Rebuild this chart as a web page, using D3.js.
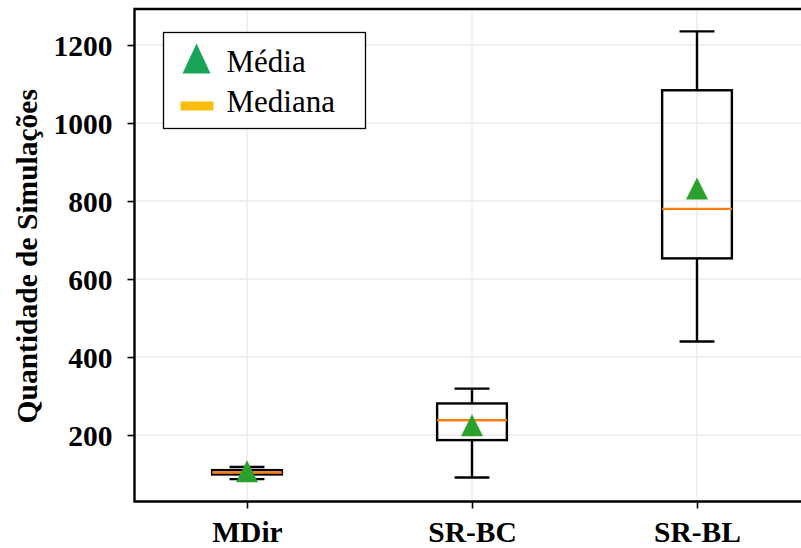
<!DOCTYPE html>
<html>
<head>
<meta charset="utf-8">
<script src="https://cdn.jsdelivr.net/npm/d3@7"></script>
<style>
  html, body { margin: 0; padding: 0; background: #fff; }
  svg { display: block; }
</style>
</head>
<body>
<svg id="chart" width="801" height="548"></svg>
<script>
// Box statistics per method (number of simulations)
const categories   = ["MDir", "SR-BC", "SR-BL"];
const whiskerLow   = [87, 91, 440];
const quartile1    = [99, 187, 653];
const medians      = [104, 238, 780];
const quartile3    = [110, 281, 1084];
const whiskerHigh  = [118, 319, 1235];
const means        = [107, 225, 832];
const yTickValues  = [200, 400, 600, 800, 1000, 1200];
const yLabel = "Quantidade de Simulações";
const legendLabels = ["Média", "Mediana"];

const svg = d3.select("#chart");
const plot = { left: 134.5, right: 809.5, top: 9, bottom: 501.5 };

const serif = "'Liberation Serif', 'Times New Roman', serif";
const lineW = 2.4;
const boxColor = "#000";
const medianColor = "#ff7f0e";
const meanColor = "#2ca02c";

// x: one slot per category, boxes centred in the slots
const x = d3.scalePoint().domain(categories).range([plot.left, plot.right]).padding(0.5);
const step = x.step();
const boxW = step * 0.31;
const capW = boxW / 2;

// y: data extent with 5% margins
const lo = d3.min(whiskerLow), hi = d3.max(whiskerHigh);
const pad = (hi - lo) * 0.05;
const y = d3.scaleLinear().domain([lo - pad, hi + pad]).range([plot.bottom, plot.top]);

// grid
const grid = svg.append("g").attr("stroke", "#ebebeb").attr("stroke-width", 1.4);
grid.selectAll("line.h").data(yTickValues).join("line")
  .attr("x1", plot.left).attr("x2", plot.right)
  .attr("y1", d => y(d)).attr("y2", d => y(d));
grid.selectAll("line.v").data(categories).join("line")
  .attr("y1", plot.top).attr("y2", plot.bottom)
  .attr("x1", d => x(d)).attr("x2", d => x(d));

// axes
const yAxis = svg.append("g")
  .attr("transform", `translate(${plot.left},0)`)
  .call(d3.axisLeft(y).tickValues(yTickValues).tickSize(7).tickPadding(15).tickFormat(d3.format("d")));
const xAxis = svg.append("g")
  .attr("transform", `translate(0,${plot.bottom})`)
  .call(d3.axisBottom(x).tickSize(7).tickPadding(9));
[yAxis, xAxis].forEach(g => {
  g.select(".domain").remove();
  g.selectAll(".tick line").attr("stroke", "#000").attr("stroke-width", 1.6);
  g.selectAll(".tick text")
    .attr("fill", "#000")
    .style("font-family", serif)
    .style("font-weight", "bold")
    .style("font-size", "29.5px");
});
xAxis.selectAll(".tick text").attr("dy", "0.82em");
yAxis.selectAll(".tick text").attr("dy", "0.34em");

// boxes
const idx = d3.range(categories.length);
const boxes = svg.append("g").attr("fill", "none");

// whiskers
boxes.selectAll("line.wl").data(idx).join("line")
  .attr("x1", i => x(categories[i])).attr("x2", i => x(categories[i]))
  .attr("y1", i => y(whiskerLow[i])).attr("y2", i => y(quartile1[i]))
  .attr("stroke", boxColor).attr("stroke-width", lineW);
boxes.selectAll("line.wh").data(idx).join("line")
  .attr("x1", i => x(categories[i])).attr("x2", i => x(categories[i]))
  .attr("y1", i => y(quartile3[i])).attr("y2", i => y(whiskerHigh[i]))
  .attr("stroke", boxColor).attr("stroke-width", lineW);
// caps
[whiskerLow, whiskerHigh].forEach(arr => {
  boxes.append("g").selectAll("line").data(idx).join("line")
    .attr("x1", i => x(categories[i]) - capW / 2).attr("x2", i => x(categories[i]) + capW / 2)
    .attr("y1", i => y(arr[i])).attr("y2", i => y(arr[i]))
    .attr("stroke", boxColor).attr("stroke-width", lineW);
});
// box rectangles
boxes.append("g").selectAll("rect").data(idx).join("rect")
  .attr("x", i => x(categories[i]) - boxW / 2)
  .attr("width", boxW)
  .attr("y", i => y(quartile3[i]))
  .attr("height", i => y(quartile1[i]) - y(quartile3[i]))
  .attr("stroke", boxColor).attr("stroke-width", lineW);
// medians
boxes.append("g").selectAll("line").data(idx).join("line")
  .attr("x1", i => x(categories[i]) - boxW / 2).attr("x2", i => x(categories[i]) + boxW / 2)
  .attr("y1", i => y(medians[i])).attr("y2", i => y(medians[i]))
  .attr("stroke", medianColor).attr("stroke-width", lineW);

// mean markers (upward triangles)
const tri = (w, h) => `M0,${-h / 2}L${w / 2},${h / 2}L${-w / 2},${h / 2}Z`;
svg.append("g").selectAll("path").data(idx).join("path")
  .attr("transform", i => `translate(${x(categories[i])},${y(means[i])})`)
  .attr("d", tri(22, 22))
  .attr("fill", meanColor);

// spines (left, bottom, top; the right one falls beyond the canvas)
const spines = svg.append("g").attr("stroke", "#000").attr("stroke-width", 2.4).attr("fill", "none");
spines.append("path")
  .attr("d", `M${plot.right},${plot.top}H${plot.left}V${plot.bottom}H${plot.right}V${plot.top}`);

// y label
svg.append("text")
  .attr("transform", `translate(37,${(plot.top + plot.bottom) / 2 + 1}) rotate(-90)`)
  .attr("text-anchor", "middle")
  .style("font-family", serif)
  .style("font-weight", "bold")
  .style("font-size", "29.5px")
  .text(yLabel);

// legend
const lg = svg.append("g").attr("transform", "translate(163.5,32.5)");
lg.append("rect").attr("width", 202).attr("height", 96)
  .attr("fill", "#fff").attr("stroke", "#000").attr("stroke-width", 1.3);
lg.append("path").attr("transform", "translate(33,26)").attr("d", tri(28, 30)).attr("fill", "#19a557");
lg.append("rect").attr("x", 17).attr("y", 69).attr("width", 33).attr("height", 9).attr("fill", "#fbbd0b");
lg.selectAll("text").data(legendLabels).join("text")
  .attr("x", 63).attr("y", (d, i) => 39 + i * 40)
  .style("font-family", serif)
  .style("font-size", "31px")
  .text(d => d);
</script>
</body>
</html>
